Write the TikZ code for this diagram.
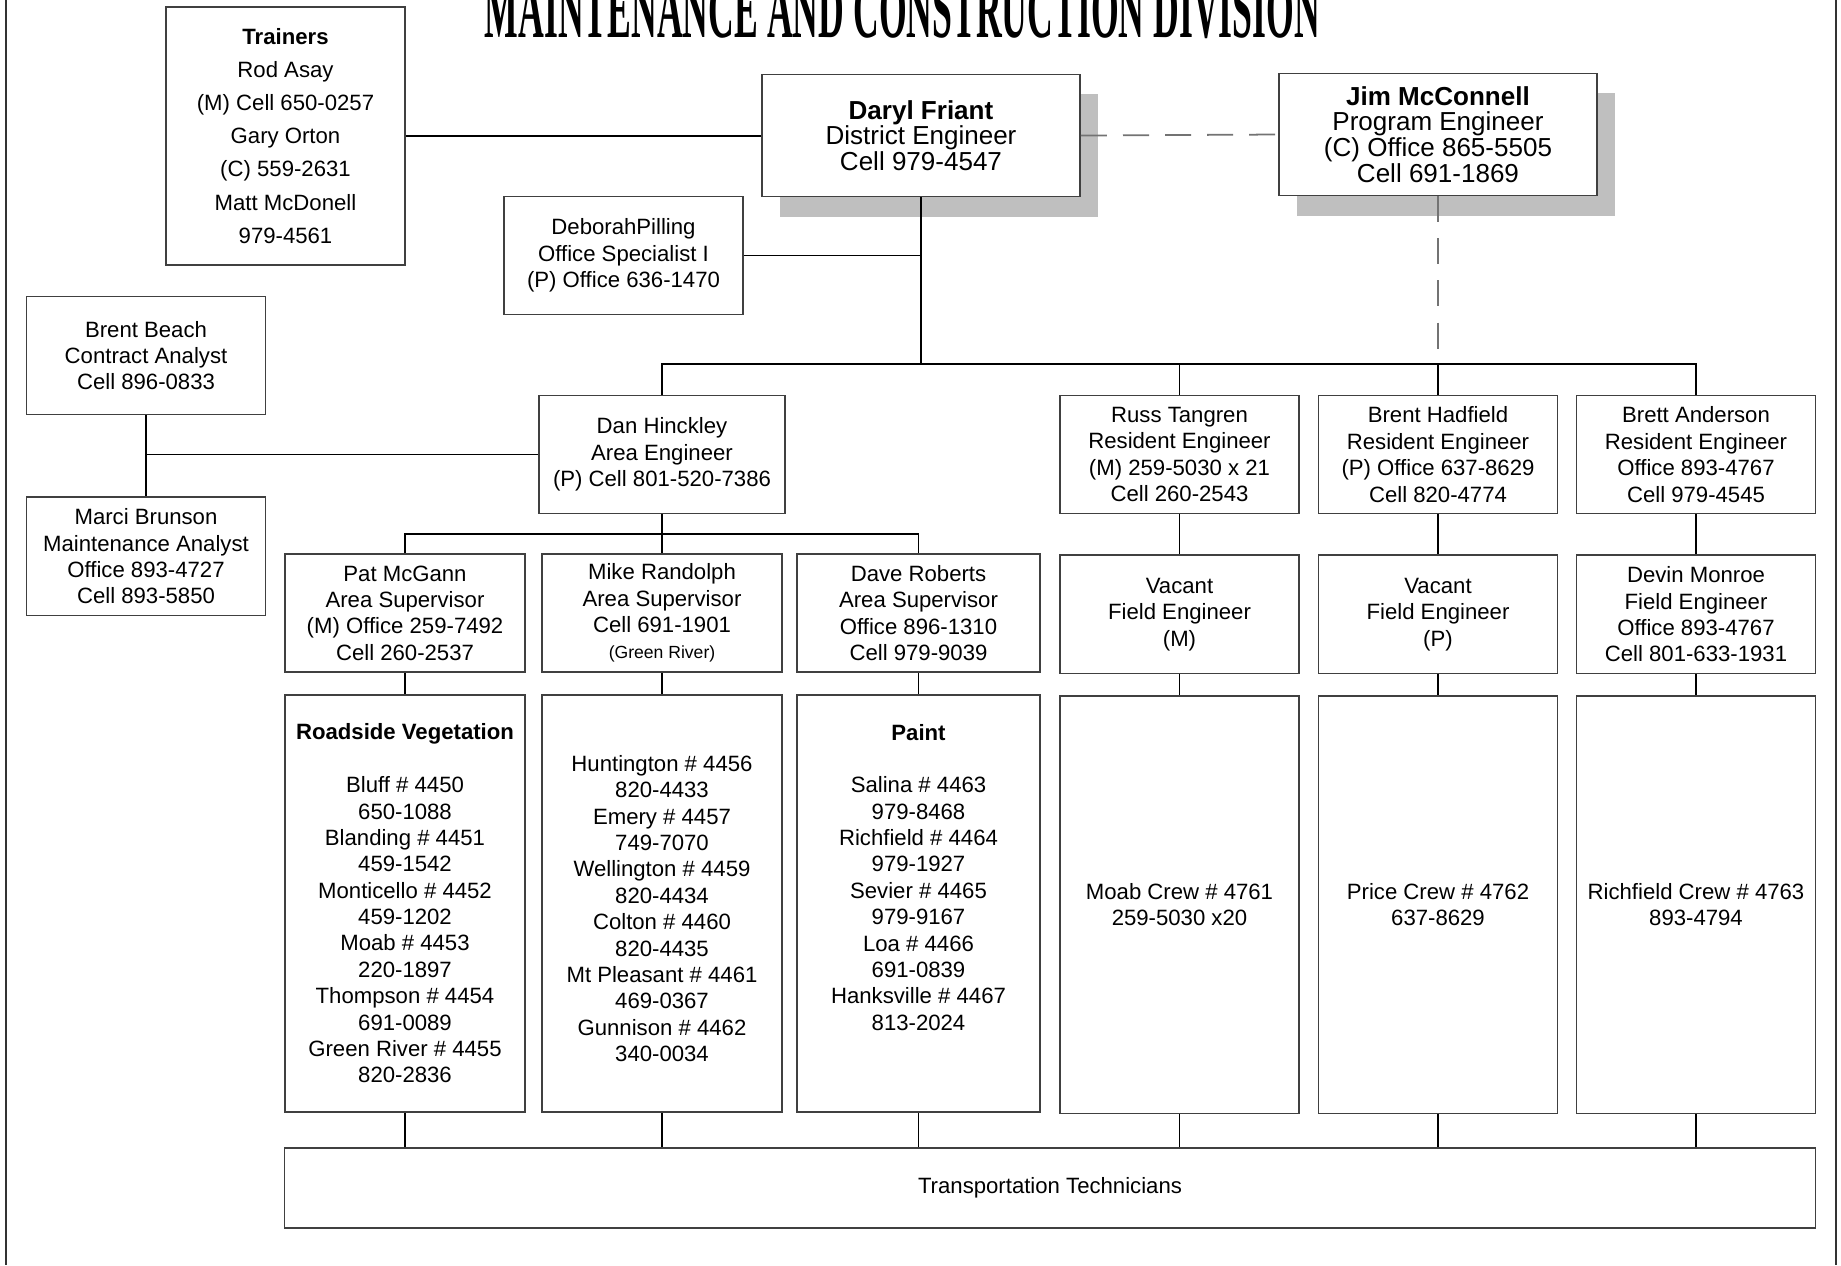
\documentclass[tikz,border=0pt]{standalone}
\usepackage{fontspec}
\setmainfont{Liberation Sans}
\newfontfamily\titlefamily{Liberation Serif}
\usepackage{graphicx}
\usetikzlibrary{shapes,positioning,shadows}
\newcommand{\orgfont}{\fontsize{6.3}{7.5}\selectfont}
\newcommand{\chieffont}{\fontsize{7.4}{7.3}\selectfont}
\newcommand{\trainerfont}{\fontsize{6.3}{9.4}\selectfont}
\tikzset{
    basic/.style  = {draw=black!75, line width=0.5pt, rectangle, fill=white, align=center, inner sep=0pt, font=\orgfont},
    person/.style = {basic, minimum width=2.39cm, minimum height=1.18cm},
    chief/.style  = {basic, font=\chieffont, minimum width=3.18cm, minimum height=1.22cm,
                     drop shadow={shadow xshift=0.18cm, shadow yshift=-0.2cm, fill=black!25, opacity=1}},
    crew/.style   = {person, minimum height=4.17cm},
    link/.style   = {draw=black, line width=0.5pt},
    dashlink/.style = {link, draw=black!55, dash pattern=on 0.26cm off 0.16cm},
    frame/.style  = {draw=black!80, line width=0.8pt}
}

\begin{document}
\begin{tikzpicture}[x=0.01cm, y=-0.01cm]
    \useasboundingbox (0,0) rectangle (1841,1265);
    \draw[frame] (6,0) -- (6,1265);
    \draw[frame] (1836,0) -- (1836,1265);
    \node[anchor=south west, inner sep=0pt] (title) at (484,39)
        {\resizebox{8.35cm}{0.55cm}{\titlefamily\bfseries MAINTENANCE AND CONSTRUCTION DIVISION}};

    % district level
    \node[chief] (daryl) at (921,135.5) {\textbf{Daryl Friant}\\District Engineer\\Cell 979-4547};
    \node[chief] (jim) at (1438,134.5) {\textbf{Jim McConnell}\\Program Engineer\\(C) Office 865-5505\\Cell 691-1869};
    \node[person, minimum height=2.58cm, font=\trainerfont] (trainers) at (285.5,136)
        {\textbf{Trainers}\\Rod Asay\\(M) Cell 650-0257\\Gary Orton\\(C) 559-2631\\Matt McDonell\\979-4561};
    \node[person] (deborah) at (623.5,255.5) {DeborahPilling\\Office Specialist I\\(P) Office 636-1470};
    \node[person] (beach) at (146,355.5) {Brent Beach\\Contract Analyst\\Cell 896-0833};
    \node[person, below=0.81cm of beach] (marci) {Marci Brunson\\Maintenance Analyst\\Office 893-4727\\Cell 893-5850};

    % engineers
    \node[person, minimum width=2.46cm] (dan) at (662,454.5) {Dan Hinckley\\Area Engineer\\(P) Cell 801-520-7386};
    \node[person] (russ) at (1179.5,454.5) {Russ Tangren\\Resident Engineer\\(M) 259-5030 x 21\\Cell 260-2543};
    \node[person] (hadfield) at (1438,454.5) {Brent Hadfield\\Resident Engineer\\(P) Office 637-8629\\Cell 820-4774};
    \node[person] (anderson) at (1696,454.5) {Brett Anderson\\Resident Engineer\\Office 893-4767\\Cell 979-4545};

    % supervisors and field engineers
    \node[person, minimum width=2.40cm] (mcgann) at (405,613) {Pat McGann\\Area Supervisor\\(M) Office 259-7492\\Cell 260-2537};
    \node[person, minimum width=2.40cm] (randolph) at (662,613)
        {Mike Randolph\\Area Supervisor\\Cell 691-1901\\{\fontsize{5}{7.5}\selectfont (Green River)}};
    \node[person, minimum width=2.43cm] (roberts) at (918.5,613) {Dave Roberts\\Area Supervisor\\Office 896-1310\\Cell 979-9039};
    \node[person, below=0.4cm of russ] (vacantm) {Vacant\\Field Engineer\\(M)};
    \node[person, below=0.4cm of hadfield] (vacantp) {Vacant\\Field Engineer\\(P)};
    \node[person, below=0.4cm of anderson] (monroe) {Devin Monroe\\Field Engineer\\Office 893-4767\\Cell 801-633-1931};

    % crews
    \node[crew, minimum width=2.40cm, below=0.21cm of mcgann] (vegetation)
        {\textbf{Roadside Vegetation}\\\mbox{}\\Bluff \# 4450\\650-1088\\Blanding \# 4451\\459-1542\\Monticello \# 4452\\459-1202\\Moab \# 4453\\220-1897\\Thompson \# 4454\\691-0089\\Green River \# 4455\\820-2836};
    \node[crew, minimum width=2.40cm, below=0.21cm of randolph] (castle)
        {\mbox{}\\Huntington \# 4456\\820-4433\\Emery \# 4457\\749-7070\\Wellington \# 4459\\820-4434\\Colton \# 4460\\820-4435\\Mt Pleasant \# 4461\\469-0367\\Gunnison \# 4462\\340-0034};
    \node[crew, minimum width=2.43cm, below=0.21cm of roberts] (paint)
        {\textbf{Paint}\\\mbox{}\\Salina \# 4463\\979-8468\\Richfield \# 4464\\979-1927\\Sevier \# 4465\\979-9167\\Loa \# 4466\\691-0839\\Hanksville \# 4467\\813-2024\\\mbox{}\\\mbox{}};
    \node[crew, below=0.21cm of vacantm] (moab) {Moab Crew \# 4761\\259-5030 x20};
    \node[crew, below=0.21cm of vacantp] (price) {Price Crew \# 4762\\637-8629};
    \node[crew, below=0.21cm of monroe] (richfield) {Richfield Crew \# 4763\\893-4794};

    \node[basic, minimum width=15.30cm, minimum height=0.80cm] (techs) at (1050,1188) {Transportation Technicians};

    % connectors
    \coordinate (bus) at (921,364);
    \coordinate (subbus) at (662,534);
    \draw[link] (trainers.east) -- (trainers.east -| daryl.west);
    \draw[dashlink] (daryl.east) -- (jim.west);
    \draw[link] (daryl.south) -- (bus);
    \draw[link] (deborah.east) -- (deborah.east -| daryl.south);
    \draw[dashlink] (jim.south) -- (jim.south |- bus);
    \draw[link] (dan.north) |- (anderson.north |- bus) -- (anderson.north);
    \foreach \n in {russ,hadfield}
        \draw[link] (\n.north) -- (\n.north |- bus);
    \draw[link] (beach.south) -- (marci.north);
    \draw[link] (beach.south |- dan.west) -- (dan.west);
    \draw[link] (dan.south) -- (subbus);
    \draw[link] (mcgann.north) |- (subbus) -| (roberts.north);
    \draw[link] (subbus) -- (randolph.north);
    \draw[link] (russ.south) -- (vacantm.north);
    \draw[link] (hadfield.south) -- (vacantp.north);
    \draw[link] (anderson.south) -- (monroe.north);
    \foreach \boss/\team in {mcgann/vegetation, randolph/castle, roberts/paint, vacantm/moab, vacantp/price, monroe/richfield} {
        \draw[link] (\boss.south) -- (\team.north);
        \draw[link] (\team.south) -- (\team.south |- techs.north);
    }
\end{tikzpicture}
\end{document}
